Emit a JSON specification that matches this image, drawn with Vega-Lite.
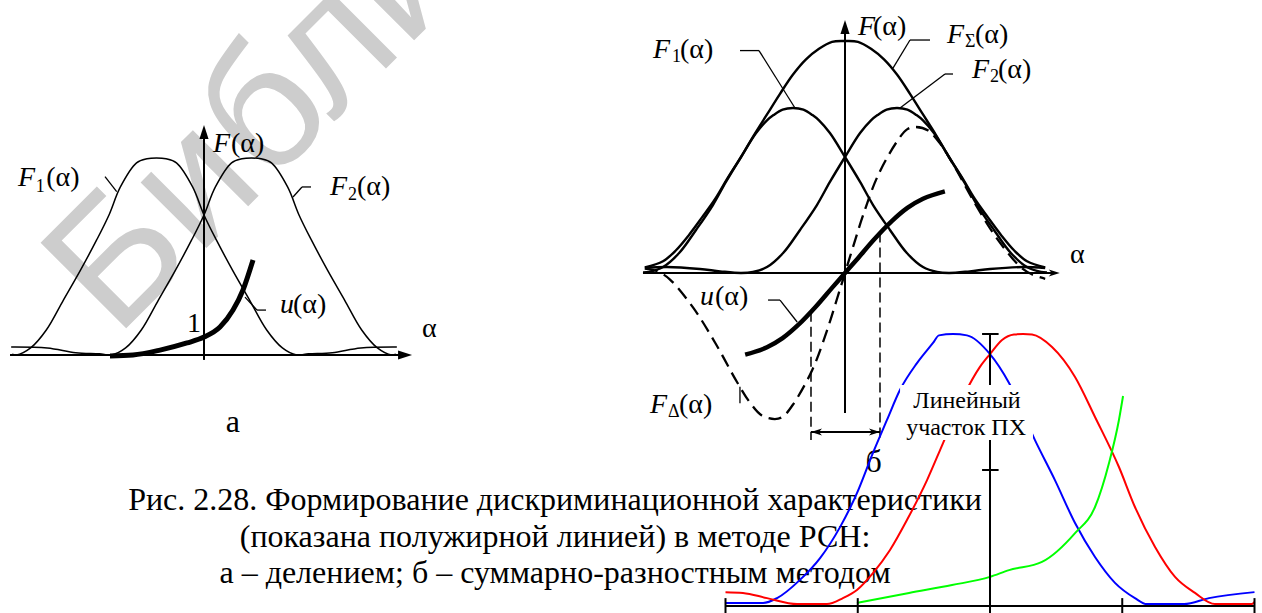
{
  "$schema": "https://vega.github.io/schema/vega-lite/v6.json",
  "width": 1262,
  "height": 613,
  "autosize": {"type": "none"},
  "padding": 0,
  "background": "white",
  "config": {"view": {"stroke": null}},
  "resolve": {"scale": {"x": "independent", "y": "independent"}},
  "layer": [
    {
      "encoding": {
        "x": {"field": "px", "type": "quantitative", "scale": {"domain": [0, 100], "nice": false, "zero": false}, "axis": null},
        "y": {"field": "py", "type": "quantitative", "scale": {"domain": [100, 0], "nice": false, "zero": false}, "axis": null},
        "text": {"field": "t"}
      },
      "layer": [
        {
          "data": {"values": [{"t": "Библиотека БГУИР", "px": 9.2, "py": 55.2}]},
          "mark": {"type": "text", "font": "Liberation Sans", "fontSize": 176, "angle": -45, "align": "left", "baseline": "alphabetic", "color": "#cdcdcd"}
        },
        {
          "data": {"values": [
            {"t": "Рис. 2.28. Формирование дискриминационной характеристики", "px": 43.98, "py": 83.2},
            {"t": "(показана полужирной линией) в методе РСН:", "px": 43.98, "py": 89.23},
            {"t": "а – делением; б – суммарно-разностным методом", "px": 43.98, "py": 95.11},
            {"t": "а", "px": 18.46, "py": 70.47},
            {"t": "б", "px": 69.22, "py": 77.0}
          ]},
          "mark": {"type": "text", "font": "Liberation Serif", "fontSize": 32, "align": "center", "baseline": "alphabetic", "color": "black"}
        }
      ]
    },
    {
      "encoding": {
        "x": {"field": "a", "type": "quantitative", "scale": {"domain": [-4.2947, 22.2737], "nice": false, "zero": false}, "axis": null},
        "y": {"field": "f", "type": "quantitative", "scale": {"domain": [-1.30964, 1.80203], "nice": false, "zero": false}, "axis": null}
      },
      "layer": [
        {
          "data": {"values": [
            {"c": "F1", "a": -4.04, "f": 0.004}, {"c": "F1", "a": -3.95, "f": 0}, {"c": "F1", "a": -3.65, "f": 0.036}, {"c": "F1", "a": -3.32, "f": 0.127},
            {"c": "F1", "a": -2.96, "f": 0.279}, {"c": "F1", "a": -2.6, "f": 0.431}, {"c": "F1", "a": -2.26, "f": 0.584}, {"c": "F1", "a": -2.0, "f": 0.711},
            {"c": "F1", "a": -1.76, "f": 0.853}, {"c": "F1", "a": -1.42, "f": 0.975}, {"c": "F1", "a": -1.2, "f": 0.996}, {"c": "F1", "a": -1.0, "f": 1.0},
            {"c": "F1", "a": -0.8, "f": 0.996}, {"c": "F1", "a": -0.58, "f": 0.975}, {"c": "F1", "a": -0.24, "f": 0.853}, {"c": "F1", "a": 0, "f": 0.711},
            {"c": "F1", "a": 0.26, "f": 0.584}, {"c": "F1", "a": 0.6, "f": 0.431}, {"c": "F1", "a": 0.96, "f": 0.279}, {"c": "F1", "a": 1.32, "f": 0.127},
            {"c": "F1", "a": 1.65, "f": 0.036}, {"c": "F1", "a": 1.95, "f": 0}, {"c": "F1", "a": 2.2, "f": 0.006}, {"c": "F1", "a": 2.7, "f": 0.012},
            {"c": "F1", "a": 3.3, "f": 0.036}, {"c": "F1", "a": 4.06, "f": 0.041},
            {"c": "F2", "a": -4.06, "f": 0.041}, {"c": "F2", "a": -3.3, "f": 0.036}, {"c": "F2", "a": -2.7, "f": 0.012}, {"c": "F2", "a": -2.2, "f": 0.006},
            {"c": "F2", "a": -1.95, "f": 0}, {"c": "F2", "a": -1.65, "f": 0.036}, {"c": "F2", "a": -1.32, "f": 0.127}, {"c": "F2", "a": -0.96, "f": 0.279},
            {"c": "F2", "a": -0.6, "f": 0.431}, {"c": "F2", "a": -0.26, "f": 0.584}, {"c": "F2", "a": 0, "f": 0.711}, {"c": "F2", "a": 0.24, "f": 0.853},
            {"c": "F2", "a": 0.58, "f": 0.975}, {"c": "F2", "a": 0.8, "f": 0.996}, {"c": "F2", "a": 1.0, "f": 1.0}, {"c": "F2", "a": 1.2, "f": 0.996},
            {"c": "F2", "a": 1.42, "f": 0.975}, {"c": "F2", "a": 1.76, "f": 0.853}, {"c": "F2", "a": 2.0, "f": 0.711}, {"c": "F2", "a": 2.26, "f": 0.584},
            {"c": "F2", "a": 2.6, "f": 0.431}, {"c": "F2", "a": 2.96, "f": 0.279}, {"c": "F2", "a": 3.32, "f": 0.127}, {"c": "F2", "a": 3.65, "f": 0.036},
            {"c": "F2", "a": 3.95, "f": 0}, {"c": "F2", "a": 4.04, "f": 0.004}
          ]},
          "mark": {"type": "line", "interpolate": "catmull-rom", "strokeWidth": 1.5, "color": "black"},
          "encoding": {"detail": {"field": "c"}}
        },
        {
          "data": {"values": [
            {"a": -1.979, "f": -0.005}, {"a": -1.495, "f": 0}, {"a": -0.926, "f": 0.025}, {"a": -0.358, "f": 0.061},
            {"a": 0, "f": 0.091}, {"a": 0.337, "f": 0.142}, {"a": 0.611, "f": 0.228}, {"a": 0.821, "f": 0.33}, {"a": 1.032, "f": 0.482}
          ]},
          "mark": {"type": "line", "interpolate": "monotone", "strokeWidth": 5, "color": "black"},
          "encoding": {}
        },
        {
          "data": {"values": [
            {"a": -4.084, "f": 0, "a2": 4.3, "f2": 0},
            {"a": 0, "f": -0.025, "a2": 0, "f2": 1.11}
          ]},
          "mark": {"type": "rule", "strokeWidth": 2, "color": "black"},
          "encoding": {"x2": {"field": "a2"}, "y2": {"field": "f2"}}
        },
        {
          "data": {"values": [
            {"a": -2.084, "f": 0.905, "a2": -1.838, "f2": 0.829},
            {"a": 2.253, "f": 0.853, "a2": 2.063, "f2": 0.853},
            {"a": 2.063, "f": 0.853, "a2": 1.874, "f2": 0.802},
            {"a": 1.305, "f": 0.228, "a2": 1.116, "f2": 0.228},
            {"a": 1.116, "f": 0.228, "a2": 0.863, "f2": 0.294}
          ]},
          "mark": {"type": "rule", "strokeWidth": 1.3, "color": "black"},
          "encoding": {"x2": {"field": "a2"}, "y2": {"field": "f2"}}
        },
        {
          "data": {"values": [{"a": 0, "f": 1.1675}]},
          "mark": {"type": "point", "shape": "M0,0L-0.65,2L0.65,2Z", "size": 196, "filled": true, "color": "black", "opacity": 1, "strokeWidth": 0}
        },
        {
          "data": {"values": [{"a": 4.38, "f": 0}]},
          "mark": {"type": "point", "shape": "M0,0L-2,-0.65L-2,0.65Z", "size": 196, "filled": true, "color": "black", "opacity": 1, "strokeWidth": 0}
        },
        {
          "data": {"values": [
            {"t": "F", "a": -3.916, "f": 0.858}, {"t": "F", "a": 0.189, "f": 1.03}, {"t": "F", "a": 2.653, "f": 0.812}, {"t": "u", "a": 1.6, "f": 0.213}
          ]},
          "mark": {"type": "text", "font": "Liberation Serif", "fontSize": 28, "fontStyle": "italic", "align": "left", "baseline": "alphabetic", "color": "black"},
          "encoding": {"text": {"field": "t"}}
        },
        {
          "data": {"values": [{"t": "1", "a": -3.54, "f": 0.827}, {"t": "2", "a": 3.032, "f": 0.787}]},
          "mark": {"type": "text", "font": "Liberation Serif", "fontSize": 18, "align": "left", "baseline": "alphabetic", "color": "black"},
          "encoding": {"text": {"field": "t"}}
        },
        {
          "data": {"values": [
            {"t": "(α)", "a": -3.32, "f": 0.858}, {"t": "(α)", "a": 0.568, "f": 1.03}, {"t": "(α)", "a": 3.221, "f": 0.812},
            {"t": "(α)", "a": 1.874, "f": 0.213}, {"t": "1", "a": -0.358, "f": 0.117}, {"t": "α", "a": 4.589, "f": 0.091}
          ]},
          "mark": {"type": "text", "font": "Liberation Serif", "fontSize": 28, "align": "left", "baseline": "alphabetic", "color": "black"},
          "encoding": {"text": {"field": "t"}}
        }
      ]
    },
    {
      "encoding": {
        "x": {"field": "a", "type": "quantitative", "scale": {"domain": [-16.25, 8.0192], "nice": false, "zero": false}, "axis": null},
        "y": {"field": "f", "type": "quantitative", "scale": {"domain": [-2.06061, 1.65455], "nice": false, "zero": false}, "axis": null}
      },
      "layer": [
        {
          "data": {"values": [
            {"c": "F1", "a": -3.885, "f": 0.003}, {"c": "F1", "a": -3.77, "f": 0.006}, {"c": "F1", "a": -3.5, "f": 0.036}, {"c": "F1", "a": -3.19, "f": 0.121},
            {"c": "F1", "a": -2.865, "f": 0.261}, {"c": "F1", "a": -2.54, "f": 0.412}, {"c": "F1", "a": -2.29, "f": 0.552}, {"c": "F1", "a": -2.0, "f": 0.703},
            {"c": "F1", "a": -1.71, "f": 0.848}, {"c": "F1", "a": -1.5, "f": 0.925}, {"c": "F1", "a": -1.375, "f": 0.957}, {"c": "F1", "a": -1.2, "f": 0.99},
            {"c": "F1", "a": -1.0, "f": 1.0}, {"c": "F1", "a": -0.8, "f": 0.99}, {"c": "F1", "a": -0.625, "f": 0.957}, {"c": "F1", "a": -0.5, "f": 0.925},
            {"c": "F1", "a": -0.29, "f": 0.848}, {"c": "F1", "a": 0, "f": 0.703}, {"c": "F1", "a": 0.29, "f": 0.552}, {"c": "F1", "a": 0.54, "f": 0.412},
            {"c": "F1", "a": 0.865, "f": 0.261}, {"c": "F1", "a": 1.19, "f": 0.121}, {"c": "F1", "a": 1.5, "f": 0.036}, {"c": "F1", "a": 1.77, "f": 0.006},
            {"c": "F1", "a": 2.0, "f": 0}, {"c": "F1", "a": 2.4, "f": 0.01}, {"c": "F1", "a": 2.79, "f": 0.024}, {"c": "F1", "a": 3.42, "f": 0.036}, {"c": "F1", "a": 3.85, "f": 0.03},
            {"c": "F2", "a": -3.85, "f": 0.03}, {"c": "F2", "a": -3.42, "f": 0.036}, {"c": "F2", "a": -2.79, "f": 0.024}, {"c": "F2", "a": -2.4, "f": 0.01},
            {"c": "F2", "a": -2.0, "f": 0}, {"c": "F2", "a": -1.77, "f": 0.006}, {"c": "F2", "a": -1.5, "f": 0.036}, {"c": "F2", "a": -1.19, "f": 0.121},
            {"c": "F2", "a": -0.865, "f": 0.261}, {"c": "F2", "a": -0.54, "f": 0.412}, {"c": "F2", "a": -0.29, "f": 0.552}, {"c": "F2", "a": 0, "f": 0.703},
            {"c": "F2", "a": 0.29, "f": 0.848}, {"c": "F2", "a": 0.5, "f": 0.925}, {"c": "F2", "a": 0.625, "f": 0.957}, {"c": "F2", "a": 0.8, "f": 0.99},
            {"c": "F2", "a": 1.0, "f": 1.0}, {"c": "F2", "a": 1.2, "f": 0.99}, {"c": "F2", "a": 1.375, "f": 0.957}, {"c": "F2", "a": 1.5, "f": 0.925},
            {"c": "F2", "a": 1.71, "f": 0.848}, {"c": "F2", "a": 2.0, "f": 0.703}, {"c": "F2", "a": 2.29, "f": 0.552}, {"c": "F2", "a": 2.54, "f": 0.412},
            {"c": "F2", "a": 2.865, "f": 0.261}, {"c": "F2", "a": 3.19, "f": 0.121}, {"c": "F2", "a": 3.5, "f": 0.036}, {"c": "F2", "a": 3.77, "f": 0.006}, {"c": "F2", "a": 3.885, "f": 0.003},
            {"c": "FS", "a": -3.85, "f": 0.034}, {"c": "FS", "a": -3.5, "f": 0.071}, {"c": "FS", "a": -3.25, "f": 0.138}, {"c": "FS", "a": -3.0, "f": 0.231},
            {"c": "FS", "a": -2.75, "f": 0.337}, {"c": "FS", "a": -2.5, "f": 0.447}, {"c": "FS", "a": -2.25, "f": 0.579}, {"c": "FS", "a": -2.0, "f": 0.703},
            {"c": "FS", "a": -1.75, "f": 0.836}, {"c": "FS", "a": -1.5, "f": 0.961}, {"c": "FS", "a": -1.25, "f": 1.086}, {"c": "FS", "a": -1.0, "f": 1.203},
            {"c": "FS", "a": -0.75, "f": 1.295}, {"c": "FS", "a": -0.5, "f": 1.359}, {"c": "FS", "a": -0.25, "f": 1.401}, {"c": "FS", "a": 0, "f": 1.406},
            {"c": "FS", "a": 0.25, "f": 1.401}, {"c": "FS", "a": 0.5, "f": 1.359}, {"c": "FS", "a": 0.75, "f": 1.295}, {"c": "FS", "a": 1.0, "f": 1.203},
            {"c": "FS", "a": 1.25, "f": 1.086}, {"c": "FS", "a": 1.5, "f": 0.961}, {"c": "FS", "a": 1.75, "f": 0.836}, {"c": "FS", "a": 2.0, "f": 0.703},
            {"c": "FS", "a": 2.25, "f": 0.579}, {"c": "FS", "a": 2.5, "f": 0.447}, {"c": "FS", "a": 2.75, "f": 0.337}, {"c": "FS", "a": 3.0, "f": 0.231},
            {"c": "FS", "a": 3.25, "f": 0.138}, {"c": "FS", "a": 3.5, "f": 0.071}, {"c": "FS", "a": 3.85, "f": 0.034}
          ]},
          "mark": {"type": "line", "interpolate": "catmull-rom", "strokeWidth": 2.4, "color": "black"},
          "encoding": {"detail": {"field": "c"}}
        },
        {
          "data": {"values": [
            {"a": -3.85, "f": 0.026}, {"a": -3.6, "f": 0.009}, {"a": -3.37, "f": -0.038}, {"a": -2.92, "f": -0.21}, {"a": -2.5, "f": -0.421},
            {"a": -2.08, "f": -0.659}, {"a": -1.83, "f": -0.784}, {"a": -1.6, "f": -0.863}, {"a": -1.35, "f": -0.885}, {"a": -1.2, "f": -0.872},
            {"a": -1.0, "f": -0.797}, {"a": -0.63, "f": -0.588}, {"a": -0.35, "f": -0.352}, {"a": -0.15, "f": -0.153}, {"a": 0, "f": 0},
            {"a": 0.15, "f": 0.153}, {"a": 0.35, "f": 0.352}, {"a": 0.63, "f": 0.588}, {"a": 1.0, "f": 0.797}, {"a": 1.2, "f": 0.872},
            {"a": 1.35, "f": 0.885}, {"a": 1.6, "f": 0.863}, {"a": 1.83, "f": 0.784}, {"a": 2.08, "f": 0.659}, {"a": 2.5, "f": 0.421},
            {"a": 2.92, "f": 0.21}, {"a": 3.37, "f": 0.038}, {"a": 3.6, "f": -0.009}, {"a": 3.85, "f": -0.035}
          ]},
          "mark": {"type": "line", "interpolate": "catmull-rom", "strokeWidth": 2.3, "strokeDash": [13, 7], "color": "black"},
          "encoding": {}
        },
        {
          "data": {"values": [
            {"a": -1.92, "f": -0.495}, {"a": -1.5, "f": -0.45}, {"a": -1.2, "f": -0.395}, {"a": -0.9, "f": -0.315}, {"a": -0.55, "f": -0.2},
            {"a": -0.25, "f": -0.09}, {"a": 0, "f": 0}, {"a": 0.25, "f": 0.09}, {"a": 0.55, "f": 0.2}, {"a": 0.9, "f": 0.315},
            {"a": 1.2, "f": 0.395}, {"a": 1.5, "f": 0.45}, {"a": 1.92, "f": 0.495}
          ]},
          "mark": {"type": "line", "interpolate": "monotone", "strokeWidth": 4.5, "color": "black"},
          "encoding": {}
        },
        {
          "data": {"values": [
            {"a": -3.885, "f": 0, "a2": 4.0, "f2": 0},
            {"a": 0, "f": -0.848, "a2": 0, "f2": 1.46},
            {"a": -0.654, "f": -0.964, "a2": 0.673, "f2": -0.964}
          ]},
          "mark": {"type": "rule", "strokeWidth": 2, "color": "black"},
          "encoding": {"x2": {"field": "a2"}, "y2": {"field": "f2"}}
        },
        {
          "data": {"values": [
            {"a": -0.654, "f": -0.235, "a2": -0.654, "f2": -1.012},
            {"a": 0.673, "f": 0.245, "a2": 0.673, "f2": -1.012}
          ]},
          "mark": {"type": "rule", "strokeWidth": 1.5, "strokeDash": [10, 5], "color": "black"},
          "encoding": {"x2": {"field": "a2"}, "y2": {"field": "f2"}}
        },
        {
          "data": {"values": [
            {"a": -2.019, "f": 1.348, "a2": -1.654, "f2": 1.348},
            {"a": -1.654, "f": 1.348, "a2": -0.962, "f2": 1.0},
            {"a": 1.635, "f": 1.412, "a2": 1.25, "f2": 1.412},
            {"a": 1.25, "f": 1.412, "a2": 0.923, "f2": 1.242},
            {"a": 2.077, "f": 1.206, "a2": 1.923, "f2": 1.206},
            {"a": 1.923, "f": 1.206, "a2": 1.058, "f2": 1.0},
            {"a": -1.48, "f": -0.164, "a2": -1.25, "f2": -0.164},
            {"a": -1.25, "f": -0.164, "a2": -0.92, "f2": -0.297},
            {"a": -2.02, "f": -0.69, "a2": -2.02, "f2": -0.79}
          ]},
          "mark": {"type": "rule", "strokeWidth": 1.3, "color": "black"},
          "encoding": {"x2": {"field": "a2"}, "y2": {"field": "f2"}}
        },
        {
          "data": {"values": [{"a": 0, "f": 1.533}]},
          "mark": {"type": "point", "shape": "M0,0L-0.65,2L0.65,2Z", "size": 196, "filled": true, "color": "black", "opacity": 1, "strokeWidth": 0}
        },
        {
          "data": {"values": [{"a": 4.13, "f": 0}, {"a": 0.673, "f": -0.964}]},
          "mark": {"type": "point", "shape": "M0,0L-2.2,-0.7L-1.6,0L-2.2,0.7Z", "size": 100, "filled": true, "color": "black", "opacity": 1, "strokeWidth": 0}
        },
        {
          "data": {"values": [{"a": -0.654, "f": -0.964}]},
          "mark": {"type": "point", "shape": "M0,0L2.2,-0.7L1.6,0L2.2,0.7Z", "size": 100, "filled": true, "color": "black", "opacity": 1, "strokeWidth": 0}
        },
        {
          "data": {"values": [
            {"t": "F", "a": -3.692, "f": 1.303}, {"t": "F", "a": 0.25, "f": 1.442}, {"t": "F", "a": 1.962, "f": 1.394},
            {"t": "F", "a": 2.442, "f": 1.182}, {"t": "u", "a": -2.788, "f": -0.194}, {"t": "F", "a": -3.75, "f": -0.848}
          ]},
          "mark": {"type": "text", "font": "Liberation Serif", "fontSize": 28, "fontStyle": "italic", "align": "left", "baseline": "alphabetic", "color": "black"},
          "encoding": {"text": {"field": "t"}}
        },
        {
          "data": {"values": [
            {"t": "1", "a": -3.327, "f": 1.279}, {"t": "Σ", "a": 2.308, "f": 1.37}, {"t": "2", "a": 2.788, "f": 1.158}, {"t": "Δ", "a": -3.404, "f": -0.873}
          ]},
          "mark": {"type": "text", "font": "Liberation Serif", "fontSize": 18, "align": "left", "baseline": "alphabetic", "color": "black"},
          "encoding": {"text": {"field": "t"}}
        },
        {
          "data": {"values": [
            {"t": "(α)", "a": -3.173, "f": 1.303}, {"t": "(α)", "a": 0.538, "f": 1.442}, {"t": "(α)", "a": 2.5, "f": 1.394},
            {"t": "(α)", "a": 2.942, "f": 1.182}, {"t": "(α)", "a": -2.5, "f": -0.194}, {"t": "(α)", "a": -3.192, "f": -0.848},
            {"t": "α", "a": 4.327, "f": 0.061}
          ]},
          "mark": {"type": "text", "font": "Liberation Serif", "fontSize": 28, "align": "left", "baseline": "alphabetic", "color": "black"},
          "encoding": {"text": {"field": "t"}}
        }
      ]
    },
    {
      "encoding": {
        "x": {"field": "a", "type": "quantitative", "scale": {"domain": [-7.4858, 2.0567], "nice": false, "zero": false}, "axis": null},
        "y": {"field": "f", "type": "quantitative", "scale": {"domain": [-0.025735, 2.227941], "nice": false, "zero": false}, "axis": null}
      },
      "layer": [
        {
          "data": {"values": [
            {"c": "blue", "a": -2.0, "f": 0.011}, {"c": "blue", "a": -1.716, "f": 0.011}, {"c": "blue", "a": -1.61, "f": 0.029}, {"c": "blue", "a": -1.437, "f": 0.096},
            {"c": "blue", "a": -1.285, "f": 0.176}, {"c": "blue", "a": -1.134, "f": 0.29}, {"c": "blue", "a": -1.006, "f": 0.415}, {"c": "blue", "a": -0.885, "f": 0.563},
            {"c": "blue", "a": -0.779, "f": 0.684}, {"c": "blue", "a": -0.681, "f": 0.794}, {"c": "blue", "a": -0.552, "f": 0.893}, {"c": "blue", "a": -0.431, "f": 0.967},
            {"c": "blue", "a": -0.386, "f": 0.995}, {"c": "blue", "a": -0.28, "f": 1.0}, {"c": "blue", "a": -0.174, "f": 0.995}, {"c": "blue", "a": 0, "f": 0.926},
            {"c": "blue", "a": 0.144, "f": 0.82}, {"c": "blue", "a": 0.34, "f": 0.61}, {"c": "blue", "a": 0.491, "f": 0.463}, {"c": "blue", "a": 0.643, "f": 0.305},
            {"c": "blue", "a": 0.794, "f": 0.18}, {"c": "blue", "a": 0.945, "f": 0.085}, {"c": "blue", "a": 1.096, "f": 0.029}, {"c": "blue", "a": 1.187, "f": 0.007},
            {"c": "blue", "a": 1.467, "f": 0.007}, {"c": "blue", "a": 1.656, "f": 0.029}, {"c": "blue", "a": 2.0, "f": 0.051},
            {"c": "red", "a": -2.0, "f": 0.051}, {"c": "red", "a": -1.868, "f": 0.048}, {"c": "red", "a": -1.686, "f": 0.029}, {"c": "red", "a": -1.459, "f": 0.007},
            {"c": "red", "a": -1.233, "f": 0.007}, {"c": "red", "a": -1.112, "f": 0.029}, {"c": "red", "a": -1.006, "f": 0.059}, {"c": "red", "a": -0.885, "f": 0.121},
            {"c": "red", "a": -0.756, "f": 0.206}, {"c": "red", "a": -0.628, "f": 0.316}, {"c": "red", "a": -0.476, "f": 0.463}, {"c": "red", "a": -0.355, "f": 0.599},
            {"c": "red", "a": -0.204, "f": 0.768}, {"c": "red", "a": -0.076, "f": 0.879}, {"c": "red", "a": 0, "f": 0.926}, {"c": "red", "a": 0.091, "f": 0.978},
            {"c": "red", "a": 0.181, "f": 0.998}, {"c": "red", "a": 0.25, "f": 1.0}, {"c": "red", "a": 0.318, "f": 0.998}, {"c": "red", "a": 0.469, "f": 0.952},
            {"c": "red", "a": 0.643, "f": 0.842}, {"c": "red", "a": 0.794, "f": 0.695}, {"c": "red", "a": 0.975, "f": 0.511}, {"c": "red", "a": 1.096, "f": 0.364},
            {"c": "red", "a": 1.248, "f": 0.217}, {"c": "red", "a": 1.399, "f": 0.107}, {"c": "red", "a": 1.55, "f": 0.048}, {"c": "red", "a": 1.701, "f": 0.007},
            {"c": "red", "a": 1.981, "f": 0.007}, {"c": "red", "a": 2.0, "f": 0.015},
            {"c": "green", "a": -1.006, "f": 0.011}, {"c": "green", "a": -0.612, "f": 0.048}, {"c": "green", "a": -0.287, "f": 0.077}, {"c": "green", "a": 0, "f": 0.107},
            {"c": "green", "a": 0.144, "f": 0.132}, {"c": "green", "a": 0.393, "f": 0.162}, {"c": "green", "a": 0.643, "f": 0.268}, {"c": "green", "a": 0.794, "f": 0.364},
            {"c": "green", "a": 0.9, "f": 0.526}, {"c": "green", "a": 0.975, "f": 0.684}, {"c": "green", "a": 1.006, "f": 0.772}
          ]},
          "mark": {"type": "line", "interpolate": "monotone", "strokeWidth": 2},
          "encoding": {
            "detail": {"field": "c"},
            "color": {"field": "c", "type": "nominal", "scale": {"domain": ["blue", "red", "green"], "range": ["#0000ff", "#ff0000", "#00ff00"]}, "legend": null}
          }
        },
        {
          "data": {"values": [
            {"a": -2, "f": 0, "a2": 2, "f2": 0},
            {"a": 0, "f": -0.0257, "a2": 0, "f2": 1.0},
            {"a": -2, "f": -0.0257, "a2": -2, "f2": 0.029},
            {"a": -1, "f": -0.0257, "a2": -1, "f2": 0.029},
            {"a": 1, "f": -0.0257, "a2": 1, "f2": 0.029},
            {"a": 2, "f": -0.0257, "a2": 2, "f2": 0.029},
            {"a": -0.06, "f": 0.5, "a2": 0.065, "f2": 0.5},
            {"a": -0.06, "f": 1.0, "a2": 0.065, "f2": 1.0}
          ]},
          "mark": {"type": "rule", "strokeWidth": 2, "color": "black"},
          "encoding": {"x2": {"field": "a2"}, "y2": {"field": "f2"}}
        },
        {
          "data": {"values": [{"a": -0.68, "a2": 0.325, "f": 0.61, "f2": 0.8125}]},
          "mark": {"type": "rect", "color": "white", "opacity": 1},
          "encoding": {"x2": {"field": "a2"}, "y2": {"field": "f2"}}
        },
        {
          "data": {"values": [
            {"t": "Линейный", "a": -0.174, "f": 0.728},
            {"t": "участок ПХ", "a": -0.181, "f": 0.629}
          ]},
          "mark": {"type": "text", "font": "Liberation Serif", "fontSize": 24, "align": "center", "baseline": "alphabetic", "color": "black"},
          "encoding": {"text": {"field": "t"}}
        }
      ]
    }
  ]
}
